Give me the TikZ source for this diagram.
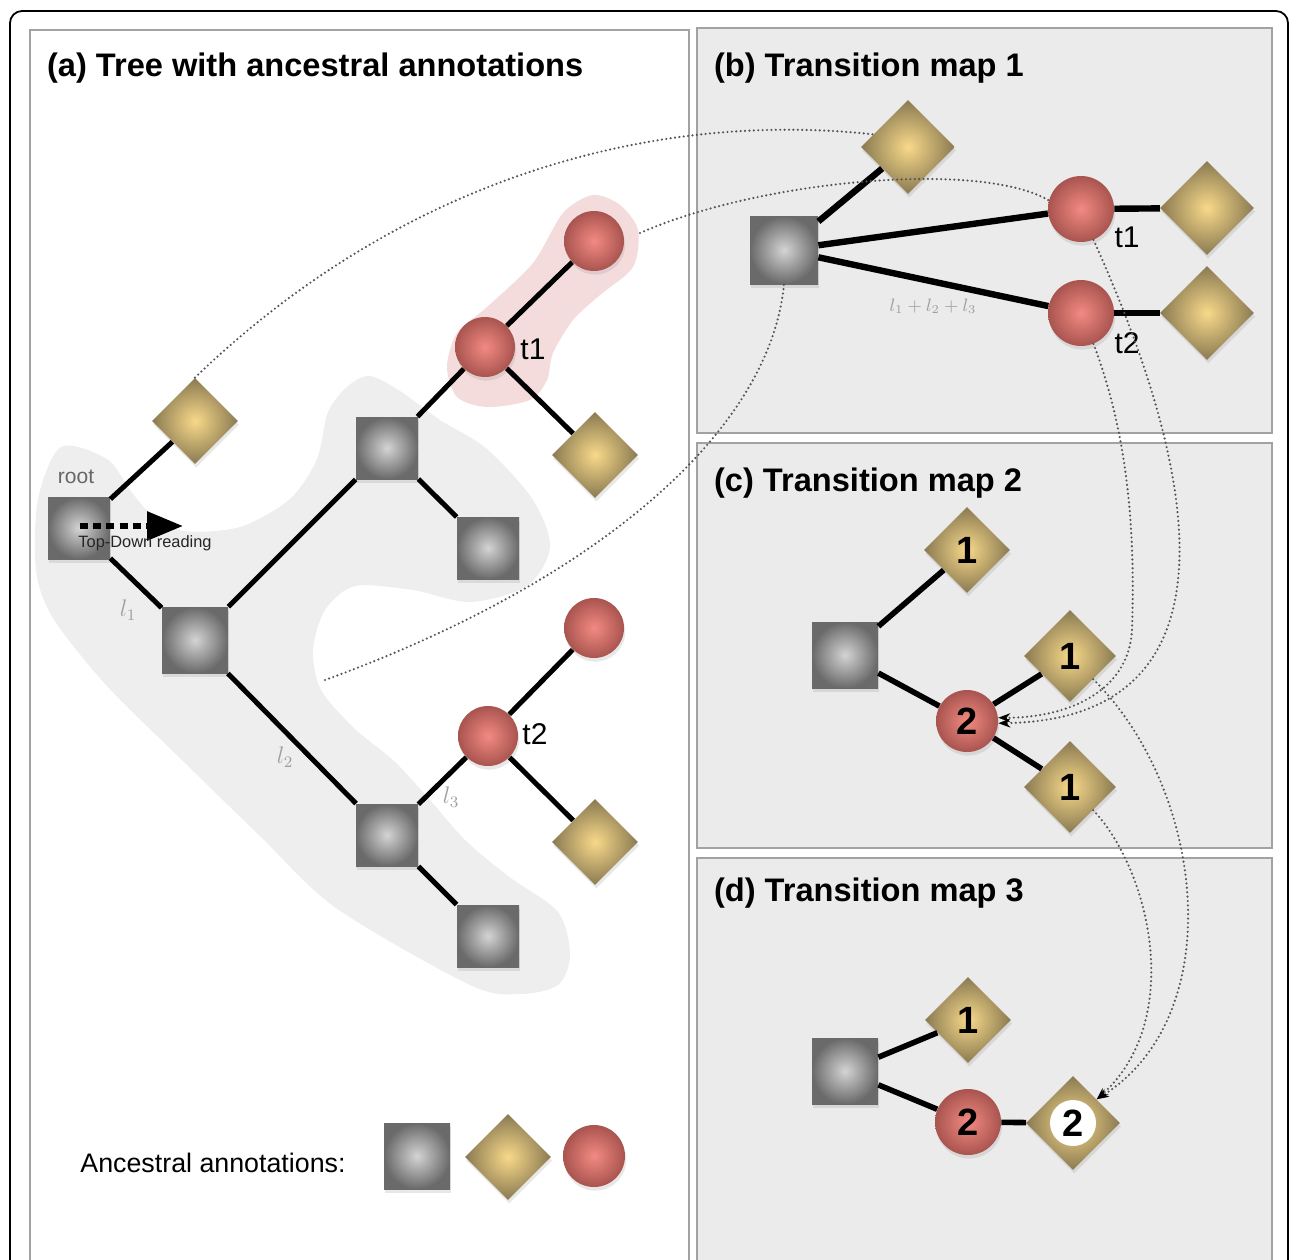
\documentclass[tikz,border=0pt]{standalone}
\usepackage{fontspec}
\setmainfont{Liberation Sans}
\usetikzlibrary{shapes.geometric,shadows,arrows.meta}

\definecolor{panelgray}{HTML}{EBEBEB}
\definecolor{panelline}{HTML}{A2A2A2}
\definecolor{blobgray}{HTML}{EEEEEE}
\definecolor{blobpink}{HTML}{F4DCDC}
\definecolor{sqin}{HTML}{D4D4D4}
\definecolor{sqout}{HTML}{6A6A6A}
\definecolor{diain}{HTML}{F8D98A}
\definecolor{diaout}{HTML}{8A7A52}
\definecolor{circin}{HTML}{F28A82}
\definecolor{circout}{HTML}{A9544F}
\definecolor{linkgray}{HTML}{555555}

\newcommand\numfont{\bfseries\fontsize{19}{19}\selectfont}
\newcommand\titlefont{\bfseries\fontsize{16.3}{19}\selectfont}

\tikzset{
  softshadow/.style={drop shadow={opacity=0.18, shadow xshift=0.6pt, shadow yshift=-1.8pt}},
  sqnode/.style={rectangle, minimum size=#1, inner sep=0pt, inner color=sqin, outer color=sqout, softshadow},
  dianode/.style={diamond, aspect=1, minimum size=#1, inner sep=0pt, inner color=diain, outer color=diaout, softshadow, font=\numfont},
  circnode/.style={circle, minimum size=#1, inner sep=0pt, inner color=circin, outer color=circout, softshadow, font=\numfont},
  branch/.style={line width=#1},
  branch/.default=2.5pt,
  dotlink/.style={draw=linkgray, line width=1.2pt, line cap=round, dash pattern=on 0pt off 2.2pt},
  linktip/.style={-{Stealth[length=6pt,width=4.5pt,color=black]}},
  panel/.style={fill=panelgray, draw=panelline, line width=1pt},
  paneltitle/.style={anchor=base west, font=\titlefont},
  tlabel/.style={font=\fontsize{15}{15}\selectfont},
  llabel/.style={text=gray!75, font=\fontsize{12}{12}\selectfont},
}

\begin{document}
\begin{tikzpicture}[x=0.5pt, y=-0.5pt]
    \useasboundingbox (0,0) rectangle (1290,1259);

    % frame and panels
    \draw[line width=0.9pt, rounded corners=6pt] (10,1300) -- (10,11) -- (1288,11) -- (1288,1300);
    \draw[fill=white, draw=panelline, line width=1pt] (30,30) rectangle (689,1300);
    \draw[panel] (697,28) rectangle (1272,433);
    \draw[panel] (697,443) rectangle (1272,848);
    \draw[panel] (697,858) rectangle (1272,1300);

    \node[paneltitle] (titlea) at (40,76) {(a) Tree with ancestral annotations};
    \node[paneltitle] (titleb) at (707,76) {(b) Transition map 1};
    \node[paneltitle] (titlec) at (707,491) {(c) Transition map 2};
    \node[paneltitle] (titled) at (707,901) {(d) Transition map 3};

    % highlighted parts of the tree
    \fill[blobgray] plot[smooth cycle] coordinates {(38,499) (61,447) (107,459) (130,490) (150,513) (183,531) (240,527) (290,499) (317,459) (328,412) (348,386) (370,376) (400,391) (440,420) (487,449) (533,500) (550,547) (527,586) (470,602) (413,590) (355,586) (325,610) (313,650) (321,690) (355,729) (394,761) (430,800) (465,840) (508,876) (558,912) (570,955) (558,985) (520,994) (470,985) (336,908) (260,836) (183,761) (107,686) (53,618) (36,570)};
    \fill[blobpink] plot[smooth cycle] coordinates {(593,195) (620,205) (638,230) (633,267) (600,295) (573,320) (553,353) (547,380) (530,400) (487,407) (457,397) (447,367) (457,333) (487,307) (533,263) (563,213)};

    % (a) tree
    \node[sqnode=31pt] (rootsq) at (79,528) {};
    \node[dianode=43pt] (ldia) at (195,421) {};
    \node[sqnode=33pt] (midsq) at (195,640) {};
    \node[sqnode=31pt] (upsq) at (387,448) {};
    \node[sqnode=31pt] (upleaf) at (488,548) {};
    \node[circnode=30pt] (tone) at (485,347) {};
    \node[circnode=30pt] (tonetop) at (594,241) {};
    \node[dianode=43pt] (tonedia) at (595,455) {};
    \node[sqnode=31pt] (lowsq) at (387,835) {};
    \node[sqnode=31pt] (lowleaf) at (488,936) {};
    \node[circnode=30pt] (ttwo) at (488,736) {};
    \node[circnode=30pt] (ttwotop) at (594,628) {};
    \node[dianode=43pt] (ttwodia) at (595,842) {};

    \draw[branch] (rootsq) -- (ldia);
    \draw[branch] (rootsq) -- (midsq);
    \draw[branch] (midsq) -- (upsq);
    \draw[branch] (upsq) -- (upleaf);
    \draw[branch] (upsq) -- (tone);
    \draw[branch] (tone) -- (tonetop);
    \draw[branch] (tone) -- (tonedia);
    \draw[branch] (midsq) -- (lowsq);
    \draw[branch] (lowsq) -- (lowleaf);
    \draw[branch] (lowsq) -- (ttwo);
    \draw[branch] (ttwo) -- (ttwotop);
    \draw[branch] (ttwo) -- (ttwodia);

    \node[text=gray!80!black, font=\fontsize{10.5}{10.5}\selectfont] (rootlabel) at (76,477) {root};
    \node[tlabel] (tonelabel) at (533,349) {t1};
    \node[tlabel] (ttwolabel) at (535,734) {t2};
    \node[llabel] (lone) at (128,610) {$l_1$};
    \node[llabel] (ltwo) at (285,757) {$l_2$};
    \node[llabel] (lthree) at (451,797) {$l_3$};

    \coordinate (readstart) at (80,526);
    \coordinate (readend) at (183,526);
    \draw[line width=3pt, dash pattern=on 4pt off 2.6pt, -{Triangle[length=18pt,width=14pt]}] (readstart) -- (readend);
    \node[font=\fontsize{8.2}{8.2}\selectfont, text=gray!30!black] (readlabel) at (145,543) {Top-Down reading};

    \node[anchor=west, inner sep=0pt, font=\fontsize{13.4}{13.4}\selectfont] (legtext) at (80,1163) {Ancestral annotations:};
    \node[sqnode=33pt] (legsq) at (417,1156) {};
    \node[dianode=43pt] (legdia) at (508,1157) {};
    \node[circnode=31pt] (legcirc) at (594,1156) {};

    % (b) transition map 1
    \node[sqnode=34pt] (bsq) at (784,250) {};
    \node[dianode=47pt] (bdia) at (908,147) {};
    \node[circnode=33pt] (bone) at (1081,209) {};
    \node[circnode=33pt] (btwo) at (1081,313) {};
    \node[dianode=47pt] (bonedia) at (1207,208) {};
    \node[dianode=47pt] (btwodia) at (1207,313) {};

    \draw[branch=3.2pt] (bsq) -- (bdia);
    \draw[branch=3.2pt] (bsq) -- (bone);
    \draw[branch=3.2pt] (bsq) -- (btwo);
    \draw[branch=3.2pt] (bone) -- (bonedia);
    \draw[branch=3.2pt] (btwo) -- (btwodia);

    \node[tlabel] (bonelabel) at (1127,237) {t1};
    \node[tlabel] (btwolabel) at (1127,343) {t2};
    \node[text=gray!75, font=\fontsize{9}{9}\selectfont] (lsum) at (933,306) {$l_1+l_2+l_3$};

    % (c) transition map 2
    \node[sqnode=33pt] (csq) at (845,655) {};
    \node[dianode=43pt] (cdia) at (967,550) {1};
    \node[circnode=31pt] (ctwo) at (967,721) {2};
    \node[dianode=46pt] (cdiamid) at (1070,656) {1};
    \node[dianode=46pt] (cdiabot) at (1070,787) {1};

    \draw[branch=2.8pt] (csq) -- (cdia);
    \draw[branch=2.8pt] (csq) -- (ctwo);
    \draw[branch=2.8pt] (ctwo) -- (cdiamid);
    \draw[branch=2.8pt] (ctwo) -- (cdiabot);

    % (d) transition map 3
    \node[sqnode=33pt] (dsq) at (845,1071) {};
    \node[dianode=43pt] (ddia) at (968,1020) {1};
    \node[circnode=33pt] (dtwo) at (968,1122) {2};
    \node[dianode=47pt] (ddiatwo) at (1073,1123) {};
    \node[circle, fill=white, minimum size=23pt, inner sep=0pt, font=\numfont] (dwhite) at (1073,1123) {2};

    \draw[branch=2.8pt] (dsq) -- (ddia);
    \draw[branch=2.8pt] (dsq) -- (dtwo);
    \draw[branch=2.8pt] (dtwo) -- (ddiatwo);

    % dotted links between the panels
    \coordinate (pinkedge) at (640,233);
    \coordinate (notchpt) at (325,680);
    \draw[dotlink] (ldia.north) .. controls (400,180) and (650,110) .. (bdia.160);
    \draw[dotlink] (pinkedge) .. controls (760,180) and (980,160) .. (bone.165);
    \draw[dotlink] (notchpt) .. controls (600,580) and (770,430) .. (bsq.south);
    \draw[dotlink, linktip] (bone.-68) .. controls (1220,520) and (1220,720) .. (ctwo.-4);
    \draw[dotlink, linktip] (btwo.-68) .. controls (1130,440) and (1135,540) .. (1132,630) .. controls (1129,690) and (1070,718) .. (ctwo.6);
    \draw[dotlink, linktip] (cdiamid.south east) .. controls (1205,790) and (1230,1015) .. (ddiatwo.north east);
    \draw[dotlink, linktip] (cdiabot.south east) .. controls (1150,870) and (1185,1020) .. (ddiatwo.north east);
\end{tikzpicture}
\end{document}
